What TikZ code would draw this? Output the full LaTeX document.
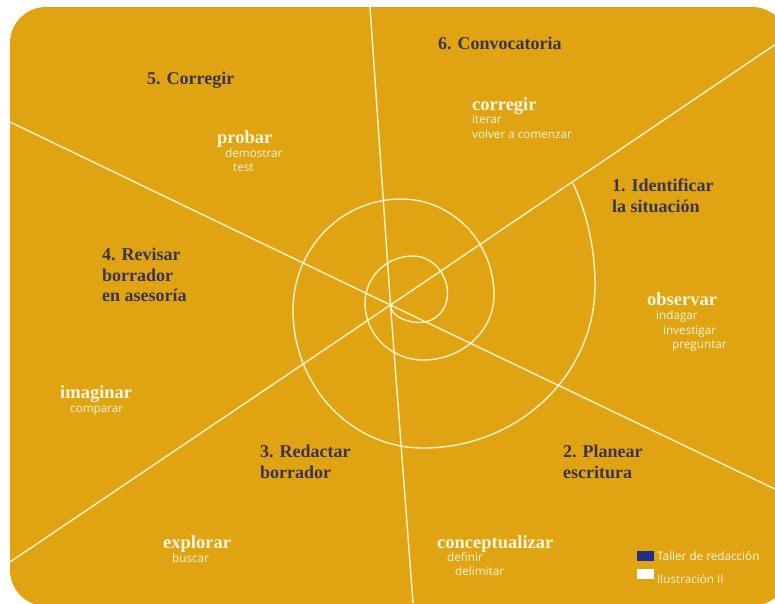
\documentclass[tikz,border=0pt]{standalone}
\usepackage{fontspec}
\setmainfont{Liberation Serif}
\newfontfamily\smallsans{Open Sans}
\definecolor{bgorange}{RGB}{224,163,17}
\definecolor{darktext}{RGB}{58,52,80}
\definecolor{creamwhite}{RGB}{255,247,222}
\definecolor{lineclr}{RGB}{255,243,205}
\definecolor{legblue}{RGB}{32,46,140}
\tikzset{
  heading/.style={font=\bfseries\fontsize{18}{18}\selectfont, text=darktext, anchor=base west, inner sep=0pt},
  keyword/.style={font=\bfseries\fontsize{18.5}{18.5}\selectfont, text=creamwhite, anchor=base west, inner sep=0pt},
  subword/.style={font=\smallsans\fontsize{11.7}{12}\selectfont, text=creamwhite, anchor=base west, inner sep=0pt},
  guide/.style={draw=lineclr, line width=1.4pt},
  legbox/.style={minimum width=17pt, minimum height=10pt, inner sep=0pt, anchor=north west}
}
\begin{document}
\begin{tikzpicture}[x=1pt,y=-1pt]
\useasboundingbox (0,0) rectangle (775,603);
\fill[white] (0,0) rectangle (775,603);
\fill[bgorange, rounded corners=36pt] (10,7) rectangle (788,606);
\begin{scope}
\clip[rounded corners=36pt] (10,7) rectangle (788,606);
\coordinate (c) at (390.5,305);
\coordinate (l1a) at (370,7);
\coordinate (l1b) at (413,603);
\coordinate (l2a) at (776,44);
\coordinate (l2b) at (10,562);
\coordinate (l3a) at (10,122);
\coordinate (l3b) at (777,490);
\draw[guide] (l1a) -- (c) -- (l1b);
\draw[guide] (l2a) -- (c) -- (l2b);
\draw[guide] (l3a) -- (c) -- (l3b);
\draw[guide] (c)
  arc[start angle=180, end angle=270, x radius=29.5pt, y radius=17.5pt]
  arc[start angle=270, end angle=360, x radius=27.5pt, y radius=28.5pt]
  arc[start angle=0, end angle=90, x radius=34.5pt, y radius=38pt]
  arc[start angle=90, end angle=180, x radius=48pt, y radius=47pt]
  arc[start angle=180, end angle=270, x radius=58pt, y radius=57pt]
  arc[start angle=270, end angle=360, x radius=71pt, y radius=65pt]
  arc[start angle=0, end angle=90, x radius=93pt, y radius=96pt]
  arc[start angle=90, end angle=180, x radius=108pt, y radius=111pt]
  arc[start angle=180, end angle=270, x radius=130pt, y radius=138pt]
  arc[start angle=270, end angle=360, x radius=172pt, y radius=163pt]
  arc[start angle=0, end angle=29.3, x radius=172pt, y radius=208pt];
\end{scope}
% headings
\node[heading] (h6) at (438,49) {6. Convocatoria};
\node[heading] (h5) at (147,84) {5. Corregir};
\node[heading] (h1a) at (612,191) {1. Identificar};
\node[heading] (h1b) at (612,212) {la situación};
\node[heading] (h4a) at (102,260) {4. Revisar};
\node[heading] (h4b) at (102,281) {borrador};
\node[heading] (h4c) at (102,301) {en asesoría};
\node[heading] (h3a) at (260,457) {3. Redactar};
\node[heading] (h3b) at (260,478) {borrador};
\node[heading] (h2a) at (563,457) {2. Planear};
\node[heading] (h2b) at (563,478) {escritura};
% keywords
\node[keyword] (kcorr) at (472,110) {corregir};
\node[subword] (kcorr1) at (472,123) {iterar};
\node[subword] (kcorr2) at (472,138) {volver a comenzar};
\node[keyword] (kprob) at (217,143) {probar};
\node[subword] (kprob1) at (225,157) {demostrar};
\node[subword] (kprob2) at (233,171) {test};
\node[keyword] (kobs) at (647,305) {observar};
\node[subword] (kobs1) at (656,319) {indagar};
\node[subword] (kobs2) at (663,334) {investigar};
\node[subword] (kobs3) at (672,348) {preguntar};
\node[keyword] (kima) at (60,398) {imaginar};
\node[subword] (kima1) at (70,412) {comparar};
\node[keyword] (kexp) at (163,548) {explorar};
\node[subword] (kexp1) at (172,562) {buscar};
\node[keyword] (kcon) at (437,548) {conceptualizar};
\node[subword] (kcon1) at (447,561) {definir};
\node[subword] (kcon2) at (455,575) {delimitar};
% legend
\node[legbox, fill=legblue] (lb1) at (637,551) {};
\node[subword] (lt1) at (657,560) {Taller de redacción};
\node[legbox, fill=white] (lb2) at (637,569) {};
\node[subword] (lt2) at (657,583) {Ilustración II};
\end{tikzpicture}
\end{document}
